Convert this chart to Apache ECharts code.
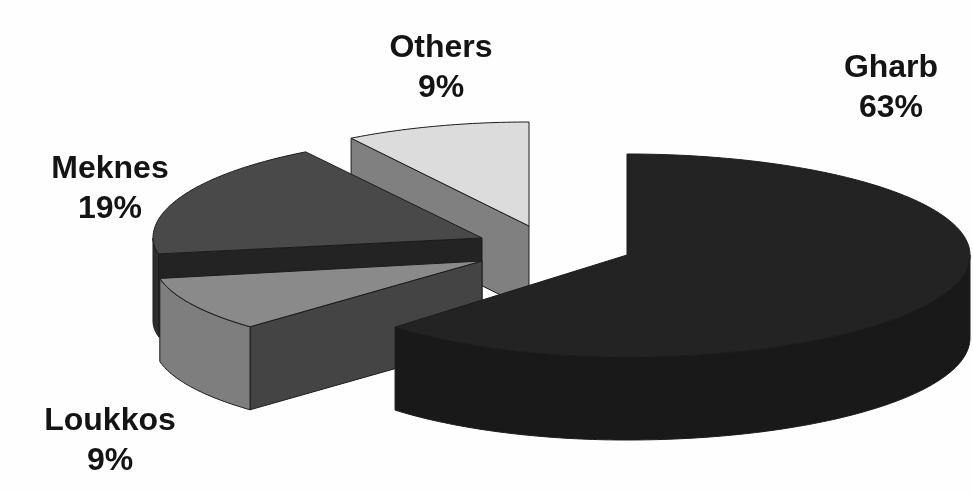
<!DOCTYPE html>
<html>
<head>
<meta charset="utf-8">
<style>html,body{margin:0;padding:0;background:#fff}#c{width:973px;height:493px}</style>
<script src="https://cdn.jsdelivr.net/npm/echarts@6/dist/echarts.min.js"></script>
</head>
<body>
<div id="c"></div>
<script>
// Data
var categories = ['Gharb', 'Loukkos', 'Meknes', 'Others'];
var shares = [63, 9, 19, 9];

// Layout and style of the exploded 3D pie (one entry per category)
var centers = [[627, 255], [482, 261], [482, 238], [529, 226]];
var radiiLeftRight = [[328, 343], [328, 328], [329, 329], [332, 332]];
var radiiTopBottom = [[101, 102], [93, 93], [102, 85], [104, 104]];
var labelCenters = [[891, 68], [110, 421], [110, 169], [441, 48]];
var topColors = ['#232323', '#8a8a8a', '#494949', '#dcdcdc'];
var wallColors = ['#191919', '#7e7e7e', '#2e2e2e', '#808080'];
var cutColors = ['#191919', '#444444', '#232323', '#808080'];
var depth = 83;
// The drawing's perspective shifts the Gharb/Loukkos boundary slightly
var warpFrom = [0, 63, 72, 100];
var warpTo = [0, 62.5, 72, 100];

function warp(p) {
  for (var i = 1; i < warpFrom.length; i++) {
    if (p <= warpFrom[i]) {
      var t = (p - warpFrom[i - 1]) / (warpFrom[i] - warpFrom[i - 1]);
      return warpTo[i - 1] + t * (warpTo[i] - warpTo[i - 1]);
    }
  }
  return p;
}
function rim(i, deg) {
  var a = deg * Math.PI / 180, s = Math.sin(a), c = Math.cos(a);
  var rx = radiiLeftRight[i][s < 0 ? 0 : 1], ry = radiiTopBottom[i][c < 0 ? 1 : 0];
  return [centers[i][0] + rx * s, centers[i][1] - ry * c];
}
function arc(i, a0, a1) {
  var pts = [], n = Math.max(2, Math.ceil(Math.abs(a1 - a0)));
  for (var k = 0; k <= n; k++) pts.push(rim(i, a0 + (a1 - a0) * k / n));
  return pts;
}
function down(p) { return [p[0], p[1] + depth]; }
function poly(points, fill) {
  return { type: 'polygon', shape: { points: points },
    style: { fill: fill, stroke: '#1c1c1c', lineWidth: 1, lineJoin: 'round' } };
}

var total = shares.reduce(function (a, b) { return a + b; }, 0);
var starts = [], run = 0;
shares.forEach(function (v) { starts.push(run); run += v; });
// painter's order: back slices first
var rows = categories.map(function (c, i) { return [i, shares[i]]; }).reverse();

var chart = echarts.init(document.getElementById('c'), null, { renderer: 'canvas' });
chart.setOption({
  backgroundColor: '#fefefe',
  animation: false,
  series: [{
    type: 'custom',
    coordinateSystem: 'none',
    silent: true,
    data: rows,
    renderItem: function (params, api) {
      var i = api.value(0), v = api.value(1);
      var a0 = warp(starts[i] / total * 100) * 3.6;
      var a1 = warp((starts[i] + v) / total * 100) * 3.6;
      var apex = centers[i], ch = [];
      var p0 = rim(i, a0);
      // radial cut face on the slice's starting edge
      if (a0 > 0) ch.push(poly([apex, p0, down(p0), down(apex)], cutColors[i]));
      // outer wall: only the part turned toward the viewer
      var w0 = Math.max(a0, 90), w1 = Math.min(a1, 270);
      if (w1 > w0) {
        var top = arc(i, w0, w1);
        ch.push(poly(top.concat(top.map(down).reverse()), wallColors[i]));
      }
      // top surface
      ch.push(poly([apex].concat(arc(i, a0, a1)), topColors[i]));
      // label
      ch.push({ type: 'text', style: {
        text: categories[i] + '\n' + v + '%',
        x: labelCenters[i][0], y: labelCenters[i][1] - 20,
        align: 'center', verticalAlign: 'top', lineHeight: 40,
        fill: '#141414', font: 'bold 32px "Liberation Sans", Arial, sans-serif'
      } });
      return { type: 'group', children: ch };
    }
  }]
});
</script>
</body>
</html>
